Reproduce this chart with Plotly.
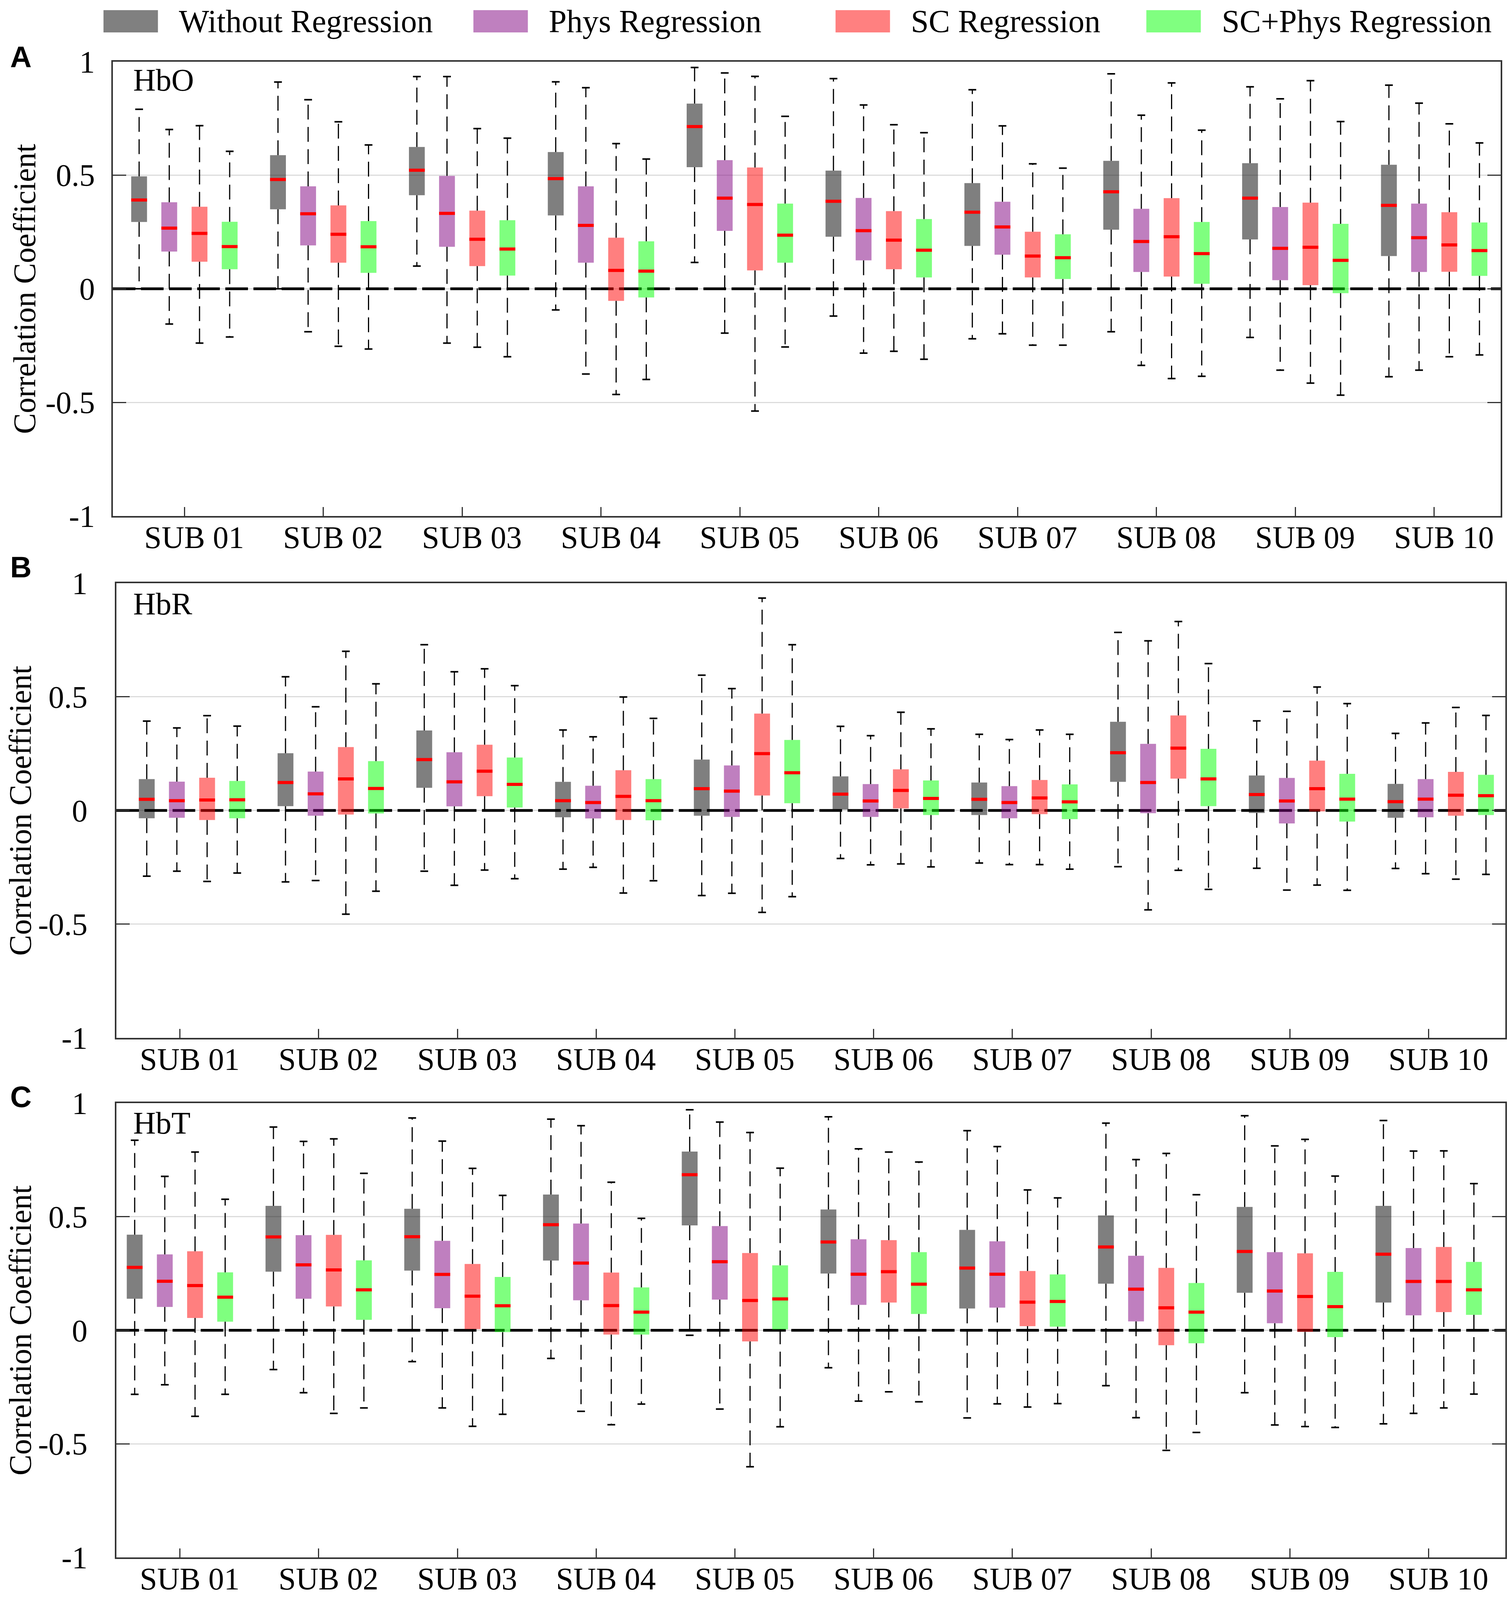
import plotly.graph_objects as go

W, H = 3871, 4636

subjects = ["SUB %02d" % i for i in range(1, 11)]
methods = ["Without Regression", "Phys Regression", "SC Regression", "SC+Phys Regression"]
fills = ["rgba(0,0,0,0.5)", "rgba(128,0,128,0.5)", "rgba(255,0,0,0.5)", "rgba(0,255,0,0.5)"]
swatches = ["#808080", "#bf80bf", "#ff8080", "#80ff80"]
y_ticks = [1, 0.5, 0, -0.5, -1]
y_ticktext = ["1", "0.5", "0", "-0.5", "-1"]

# box statistics per subject: (lower whisker, q1, median, q3, upper whisker)
hbo_without = [(0.00, 0.294, 0.391, 0.495, 0.790), (0.00, 0.350, 0.481, 0.588, 0.910),
               (0.100, 0.412, 0.522, 0.624, 0.934), (-0.093, 0.323, 0.485, 0.602, 0.911),
               (0.116, 0.535, 0.714, 0.815, 0.974), (-0.120, 0.229, 0.385, 0.520, 0.925),
               (-0.220, 0.189, 0.337, 0.465, 0.876), (-0.189, 0.260, 0.427, 0.563, 0.946),
               (-0.214, 0.217, 0.399, 0.553, 0.889), (-0.387, 0.144, 0.367, 0.546, 0.896)]
hbo_phys = [(-0.155, 0.164, 0.267, 0.381, 0.701), (-0.189, 0.191, 0.330, 0.451, 0.832),
            (-0.239, 0.185, 0.332, 0.497, 0.934), (-0.375, 0.115, 0.279, 0.451, 0.885),
            (-0.195, 0.255, 0.399, 0.566, 0.950), (-0.283, 0.125, 0.256, 0.400, 0.809),
            (-0.198, 0.150, 0.272, 0.383, 0.717), (-0.337, 0.074, 0.208, 0.352, 0.764),
            (-0.358, 0.038, 0.178, 0.360, 0.836), (-0.358, 0.074, 0.225, 0.375, 0.817)]
hbo_sc = [(-0.239, 0.119, 0.244, 0.361, 0.718), (-0.253, 0.115, 0.240, 0.367, 0.735),
          (-0.257, 0.100, 0.218, 0.344, 0.705), (-0.465, -0.053, 0.081, 0.225, 0.639),
          (-0.538, 0.081, 0.371, 0.534, 0.935), (-0.275, 0.086, 0.214, 0.342, 0.722),
          (-0.248, 0.050, 0.144, 0.251, 0.550), (-0.395, 0.054, 0.229, 0.399, 0.906),
          (-0.415, 0.016, 0.183, 0.379, 0.916), (-0.299, 0.075, 0.193, 0.337, 0.726)]
hbo_scphys = [(-0.212, 0.086, 0.186, 0.295, 0.605), (-0.265, 0.070, 0.185, 0.298, 0.633),
              (-0.299, 0.058, 0.175, 0.302, 0.663), (-0.399, -0.038, 0.078, 0.209, 0.571),
              (-0.256, 0.115, 0.236, 0.375, 0.759), (-0.310, 0.050, 0.170, 0.307, 0.687),
              (-0.248, 0.043, 0.137, 0.240, 0.531), (-0.385, 0.022, 0.155, 0.294, 0.698),
              (-0.468, -0.019, 0.125, 0.286, 0.736), (-0.291, 0.057, 0.168, 0.292, 0.642)]

hbr_without = [(-0.289, -0.034, 0.049, 0.138, 0.393), (-0.314, 0.019, 0.123, 0.252, 0.588),
               (-0.267, 0.100, 0.224, 0.352, 0.729), (-0.258, -0.030, 0.043, 0.126, 0.354),
               (-0.374, -0.023, 0.096, 0.224, 0.595), (-0.211, 0.004, 0.072, 0.150, 0.370),
               (-0.231, -0.020, 0.049, 0.123, 0.335), (-0.247, 0.126, 0.254, 0.390, 0.783),
               (-0.254, -0.011, 0.070, 0.154, 0.394), (-0.255, -0.032, 0.039, 0.117, 0.339)]
hbr_phys = [(-0.267, -0.032, 0.043, 0.127, 0.363), (-0.308, -0.023, 0.073, 0.171, 0.456),
            (-0.329, 0.018, 0.126, 0.256, 0.610), (-0.250, -0.035, 0.035, 0.109, 0.324),
            (-0.364, -0.028, 0.085, 0.198, 0.536), (-0.239, -0.028, 0.042, 0.116, 0.329),
            (-0.238, -0.034, 0.035, 0.107, 0.312), (-0.437, -0.012, 0.123, 0.293, 0.746),
            (-0.350, -0.057, 0.042, 0.143, 0.436), (-0.278, -0.030, 0.050, 0.138, 0.385)]
hbr_sc = [(-0.312, -0.042, 0.046, 0.144, 0.417), (-0.456, -0.018, 0.139, 0.279, 0.700),
          (-0.262, 0.063, 0.173, 0.289, 0.623), (-0.363, -0.042, 0.062, 0.177, 0.499),
          (-0.448, 0.066, 0.250, 0.426, 0.934), (-0.235, 0.009, 0.088, 0.181, 0.432),
          (-0.238, -0.016, 0.055, 0.134, 0.354), (-0.263, 0.140, 0.274, 0.418, 0.831),
          (-0.328, -0.004, 0.096, 0.219, 0.543), (-0.302, -0.023, 0.067, 0.170, 0.453)]
hbr_scphys = [(-0.275, -0.034, 0.047, 0.130, 0.371), (-0.355, -0.013, 0.097, 0.217, 0.557),
              (-0.300, 0.013, 0.115, 0.233, 0.549), (-0.309, -0.043, 0.043, 0.138, 0.405),
              (-0.379, 0.032, 0.166, 0.310, 0.729), (-0.248, -0.020, 0.053, 0.132, 0.359),
              (-0.258, -0.038, 0.038, 0.115, 0.335), (-0.347, 0.019, 0.139, 0.271, 0.646),
              (-0.351, -0.049, 0.050, 0.161, 0.470), (-0.281, -0.020, 0.065, 0.157, 0.418)]

hbt_without = [(-0.282, 0.139, 0.277, 0.421, 0.837), (-0.173, 0.258, 0.411, 0.548, 0.895),
               (-0.138, 0.263, 0.412, 0.535, 0.935), (-0.124, 0.307, 0.465, 0.598, 0.930),
               (-0.022, 0.462, 0.685, 0.787, 0.971), (-0.165, 0.250, 0.389, 0.532, 0.940),
               (-0.386, 0.096, 0.274, 0.442, 0.879), (-0.244, 0.205, 0.367, 0.506, 0.912),
               (-0.275, 0.165, 0.347, 0.543, 0.945), (-0.412, 0.122, 0.335, 0.548, 0.924)]
hbt_phys = [(-0.240, 0.103, 0.216, 0.334, 0.678), (-0.275, 0.139, 0.288, 0.419, 0.832),
            (-0.342, 0.097, 0.246, 0.394, 0.833), (-0.357, 0.132, 0.296, 0.470, 0.901),
            (-0.347, 0.135, 0.302, 0.459, 0.917), (-0.312, 0.112, 0.247, 0.401, 0.799),
            (-0.324, 0.100, 0.247, 0.392, 0.809), (-0.385, 0.039, 0.181, 0.328, 0.752),
            (-0.417, 0.031, 0.173, 0.344, 0.812), (-0.366, 0.066, 0.215, 0.362, 0.789)]
hbt_sc = [(-0.379, 0.054, 0.197, 0.348, 0.785), (-0.366, 0.105, 0.266, 0.420, 0.843),
          (-0.423, 0.005, 0.150, 0.292, 0.713), (-0.416, -0.019, 0.109, 0.254, 0.652),
          (-0.601, -0.049, 0.131, 0.340, 0.871), (-0.271, 0.122, 0.258, 0.397, 0.785),
          (-0.338, 0.018, 0.124, 0.261, 0.618), (-0.529, -0.066, 0.099, 0.275, 0.779),
          (-0.424, -0.007, 0.149, 0.339, 0.841), (-0.342, 0.080, 0.215, 0.367, 0.790)]
hbt_scphys = [(-0.282, 0.038, 0.146, 0.255, 0.577), (-0.342, 0.046, 0.178, 0.308, 0.691),
              (-0.370, -0.008, 0.108, 0.235, 0.594), (-0.325, -0.019, 0.080, 0.189, 0.493),
              (-0.425, 0.004, 0.138, 0.286, 0.714), (-0.315, 0.072, 0.203, 0.344, 0.741),
              (-0.323, 0.016, 0.127, 0.246, 0.583), (-0.450, -0.057, 0.080, 0.208, 0.597),
              (-0.428, -0.030, 0.104, 0.257, 0.679), (-0.281, 0.068, 0.178, 0.301, 0.646)]

# pixel layout of the three panels in the 3871x4636 reference
# (left, right, top, bottom, first tick, px per subject, group shift)
panels = [
    dict(label="HbO", letter="A", data=[hbo_without, hbo_phys, hbo_sc, hbo_scphys],
         left=282, right=3850, top=170, bottom=1492, tick1=466, unit=357.0, shift=0.0,
         standoff=26, title_x=56, letter_y=158, label_y=217),
    dict(label="HbR", letter="B", data=[hbr_without, hbr_phys, hbr_sc, hbr_scphys],
         left=291, right=3862, top=1687, bottom=3010, tick1=454.5, unit=356.7, shift=0.087,
         standoff=54, title_x=44, letter_y=1646, label_y=1740),
    dict(label="HbT", letter="C", data=[hbt_without, hbt_phys, hbt_sc, hbt_scphys],
         left=291, right=3862, top=3200, bottom=4521, tick1=454.5, unit=356.7, shift=0.0,
         standoff=54, title_x=44, letter_y=3183, label_y=3251),
]

offsets = [-0.326, -0.109, 0.109, 0.326]
box_w = 0.114
cap_half = 0.028
serif = "Liberation Serif"
axis_col = "#333333"

fig = go.Figure()
annotations = []
shapes = []


def px(xp):
    return xp / W


def py(yp):
    return 1 - yp / H


for n, p in enumerate(panels):
    xa = "x" if n == 0 else "x%d" % (n + 1)
    ya = "y" if n == 0 else "y%d" % (n + 1)
    x0 = 1 - (p["tick1"] - p["left"]) / p["unit"]
    x1 = 1 + (p["right"] - p["tick1"]) / p["unit"]

    # dashed zero reference line, drawn first so the translucent boxes sit over it
    fig.add_trace(go.Scatter(x=[x0, x1], y=[0, 0], mode="lines", showlegend=False,
                             hoverinfo="skip", xaxis=xa, yaxis=ya,
                             line=dict(color="black", width=7, dash="58px,14px")))

    for m, stats in enumerate(p["data"]):
        xs = [i + 1 + p["shift"] + offsets[m] for i in range(len(stats))]
        lo = [s[0] for s in stats]
        q1 = [s[1] for s in stats]
        med = [s[2] for s in stats]
        q3 = [s[3] for s in stats]
        hi = [s[4] for s in stats]
        # boxes as filled scatter polygons so they share the scatter layer with the zero line
        bx, by = [], []
        for x, a, b in zip(xs, q1, q3):
            bx += [x - box_w / 2, x + box_w / 2, x + box_w / 2, x - box_w / 2, x - box_w / 2, None]
            by += [a, a, b, b, a, None]
        fig.add_trace(go.Scatter(x=bx, y=by, mode="lines", fill="toself", fillcolor=fills[m],
                                 line=dict(width=0, color=fills[m]), name=methods[m],
                                 showlegend=False, hoverinfo="skip", xaxis=xa, yaxis=ya))
        wx, wy, cx, cy, mx, my = [], [], [], [], [], []
        for x, a, b, c, d, e in zip(xs, lo, q1, med, q3, hi):
            wx += [x, x, None, x, x, None]
            wy += [d, e, None, b, a, None]
            cx += [x - cap_half, x + cap_half, None, x - cap_half, x + cap_half, None]
            cy += [e, e, None, a, a, None]
            mx += [x - box_w / 2, x + box_w / 2, None]
            my += [c, c, None]
        fig.add_trace(go.Scatter(x=wx, y=wy, mode="lines", showlegend=False, hoverinfo="skip",
                                 line=dict(color="black", width=3, dash="38px,19px"),
                                 xaxis=xa, yaxis=ya))
        fig.add_trace(go.Scatter(x=cx, y=cy, mode="lines", showlegend=False, hoverinfo="skip",
                                 line=dict(color="black", width=4), xaxis=xa, yaxis=ya))
        fig.add_trace(go.Scatter(x=mx, y=my, mode="lines", showlegend=False, hoverinfo="skip",
                                 line=dict(color="#ff0000", width=8), xaxis=xa, yaxis=ya))

    suffix = "" if n == 0 else str(n + 1)
    fig.update_layout(**{
        "xaxis" + suffix: dict(
            domain=[px(p["left"]), px(p["right"])], range=[x0, x1], anchor=ya,
            tickvals=list(range(1, 11)), ticktext=subjects, ticks="inside", ticklen=23,
            tickwidth=3, tickcolor=axis_col, showline=True, linecolor=axis_col, linewidth=3.5,
            mirror=True, showgrid=False, zeroline=False, ticklabelshift=25, automargin=False,
            ticklabelstandoff=-18, tickfont=dict(family=serif, size=80, color="black")),
        "yaxis" + suffix: dict(
            domain=[py(p["bottom"]), py(p["top"])], range=[-1, 1], anchor=xa,
            tickvals=y_ticks, ticktext=y_ticktext, ticks="inside", ticklen=34, tickwidth=3,
            tickcolor=axis_col, showline=True, linecolor=axis_col, linewidth=3.5,
            mirror="ticks", showgrid=True, gridcolor="#dcdcdc", gridwidth=3, zeroline=False,
            ticklabelstandoff=p["standoff"], automargin=False,
            tickfont=dict(family=serif, size=80, color="black")),
    })
    # texts are pinned to their panel so they stay in place if the page height differs
    annotations.append(dict(text=p["label"], xref=xa + " domain", yref=ya + " domain",
                            x=0, y=1, xshift=332 - p["left"], yshift=p["top"] - p["label_y"],
                            xanchor="left", yanchor="middle", showarrow=False,
                            font=dict(family=serif, size=80, color="black")))
    annotations.append(dict(text="<b>%s</b>" % p["letter"], xref="paper", yref=ya + " domain",
                            x=px(46), y=1, yshift=p["top"] - p["letter_y"],
                            xanchor="center", yanchor="middle", showarrow=False,
                            font=dict(family="Liberation Sans", size=76, color="black")))
    annotations.append(dict(text="Correlation Coefficient", textangle=-90, xref="paper",
                            yref=ya + " domain", x=px(p["title_x"]), y=0.5,
                            xanchor="center", yanchor="middle", showarrow=False,
                            font=dict(family=serif, size=80, color="black")))

# legend row across the top, fixed in pixels from the top edge
legend_x = [258, 1209, 2140, 2939]
for m, name in enumerate(methods):
    shapes.append(dict(type="rect", xref="paper", yref="paper", ysizemode="pixel", yanchor=1,
                       x0=px(legend_x[m]), x1=px(legend_x[m] + 140), y0=-75, y1=-18,
                       fillcolor=swatches[m], line=dict(width=0)))
    annotations.append(dict(text=name, x=px(legend_x[m] + 192), y=1, yshift=-46,
                            xref="paper", yref="paper", xanchor="left", yanchor="middle",
                            showarrow=False, font=dict(family=serif, size=82, color="black")))

fig.update_layout(template="none", autosize=True, margin=dict(l=0, r=0, t=0, b=0),
                  paper_bgcolor="white", plot_bgcolor="white",
                  showlegend=False, shapes=shapes, annotations=annotations)

# fill the browser window so the whole figure is always in view
fig.write_html("out.html", default_width="100%", default_height="calc(100vh - 16px)")
